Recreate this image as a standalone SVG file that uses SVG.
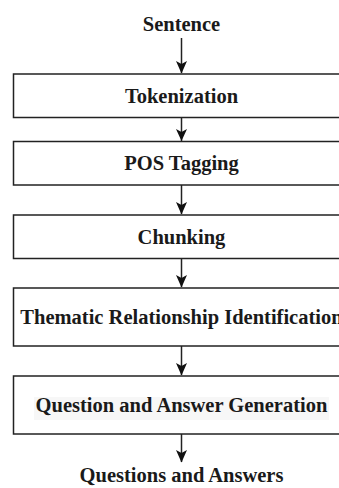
<svg xmlns="http://www.w3.org/2000/svg" width="339" height="488" viewBox="0 0 339 488">
<style>
.box{fill:#ffffff;stroke:#222222;stroke-width:1.5}
.lbl{font-family:"Liberation Serif","Times New Roman",serif;font-weight:bold;font-size:20.5px;fill:#1a1a1a;text-anchor:middle}
.edge{stroke:#222222;stroke-width:1.5;fill:none}
.head{fill:#111111}
</style>
<rect width="339" height="488" fill="#ffffff"/>
<g id="connectors">
<line class="edge" x1="181.5" y1="38" x2="181.5" y2="73"/>
<path class="head" d="M176,61 L181.5,73.5 L187,61 L181.5,64 Z"/>
<line class="edge" x1="181.5" y1="117.5" x2="181.5" y2="141"/>
<path class="head" d="M176,129 L181.5,141 L187,129 L181.5,132 Z"/>
<line class="edge" x1="181.5" y1="185" x2="181.5" y2="214"/>
<path class="head" d="M176,202 L181.5,214.5 L187,202 L181.5,205 Z"/>
<line class="edge" x1="181.5" y1="258.5" x2="181.5" y2="287"/>
<path class="head" d="M176,275 L181.5,287.5 L187,275 L181.5,278 Z"/>
<line class="edge" x1="181.5" y1="346" x2="181.5" y2="375"/>
<path class="head" d="M176,363 L181.5,375.5 L187,363 L181.5,366 Z"/>
<line class="edge" x1="181.5" y1="434" x2="181.5" y2="462"/>
<path class="head" d="M176,450 L181.5,462.5 L187,450 L181.5,453 Z"/>
</g>
<g id="sentence">
<text class="lbl" x="181.5" y="31">Sentence</text>
</g>
<g id="tokenization">
<rect class="box" x="13.5" y="74" width="340" height="43.5"/>
<text class="lbl" x="181.5" y="102.5">Tokenization</text>
</g>
<g id="pos">
<rect class="box" x="13.5" y="141.5" width="340" height="43.5"/>
<text class="lbl" x="181.5" y="170">POS Tagging</text>
</g>
<g id="chunking">
<rect class="box" x="13.5" y="215" width="340" height="43.5"/>
<text class="lbl" x="181.5" y="243.5">Chunking</text>
</g>
<g id="thematic">
<rect class="box" x="13.5" y="288" width="340" height="58"/>
<text class="lbl" x="181.5" y="323.5">Thematic Relationship Identification</text>
</g>
<g id="qa">
<rect class="box" x="13.5" y="376" width="340" height="58"/>
<rect x="34" y="397" width="295" height="23" fill="#f7f7f7"/>
<text class="lbl" x="181.5" y="411.5">Question and Answer Generation</text>
</g>
<g id="output">
<text class="lbl" x="181.5" y="482">Questions and Answers</text>
</g>
</svg>
